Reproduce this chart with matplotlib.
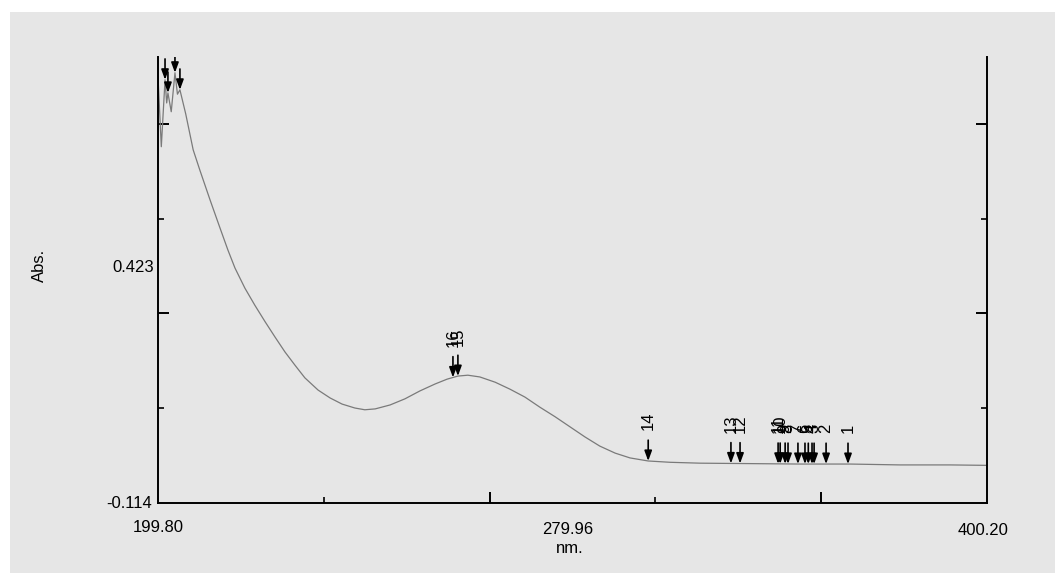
import numpy as np
import matplotlib
matplotlib.use("Agg")
from matplotlib import pyplot as plt
from matplotlib.patches import Rectangle

plt.rcParams['font.family'] = ['Liberation Sans', 'DejaVu Sans']

# spectrum (nm, Abs.)
wavelength = [199.8, 200.6, 201.5, 201.9, 202.2, 203.0, 203.9, 204.5, 205.1, 206.5,
              208.3, 209.9, 212.4, 214.8, 216.7, 218.4, 220.8, 223.2, 225.7, 228.1,
              230.5, 232.9, 235.3, 238.5, 241.4, 244.3, 247.4, 249.8, 252.3, 255.9,
              259.5, 263.1, 266.8, 269.7, 272.3, 274.7, 277.6, 281.3, 284.9, 288.5,
              292.1, 295.8, 299.4, 303.0, 306.6, 310.3, 313.9, 318.3, 323.6, 330.8,
              342.9, 355.0, 367.1, 379.2, 391.3, 400.2]
absorbance = [0.860, 0.700, 0.853, 0.800, 0.823, 0.780, 0.869, 0.820, 0.830, 0.775,
              0.693, 0.647, 0.578, 0.514, 0.464, 0.423, 0.377, 0.338, 0.300, 0.265,
              0.231, 0.201, 0.172, 0.144, 0.126, 0.112, 0.103, 0.099, 0.101, 0.110,
              0.124, 0.142, 0.158, 0.169, 0.176, 0.178, 0.174, 0.162, 0.146, 0.128,
              0.105, 0.083, 0.060, 0.037, 0.016, 0.000, -0.011, -0.018, -0.021, -0.023,
              -0.024, -0.025, -0.025, -0.027, -0.027, -0.028]

# detected peaks
peak_no = [1, 2, 3, 4, 5, 6, 7, 8, 9, 10, 11, 12, 13, 14, 15, 16]
peak_nm = [366.6, 361.3, 358.4, 357.9, 357.0, 356.2, 354.5, 352.1, 351.4, 350.2,
           349.7, 340.5, 338.3, 318.3, 272.3, 271.1]
# peaks at the short-wave end, labels fall off scale
edge_peak_nm = [201.5, 202.2, 203.9, 205.1]

x_min, x_max = 199.80, 400.20
y_min, y_max = -0.114, 0.905
x_mid_label = 279.96
y_mid_label = 0.423

fig = plt.figure(figsize=(10.55, 5.73), dpi=100)
fig.patch.set_facecolor('white')
fig.patches.append(Rectangle((10 / 1055, 0), 1 - 10 / 1055, 561 / 573,
                             transform=fig.transFigure, facecolor='#e6e6e6',
                             edgecolor='none', zorder=-10))

ax = fig.add_axes([158 / 1055, 70 / 573, 829 / 1055, 446 / 573])
ax.patch.set_alpha(0)

ax.plot(wavelength, absorbance, color='#7a7a7a', lw=0.9)
ax.set_xlim(x_min, x_max)
ax.set_ylim(y_min, y_max)

for side in ['left', 'right', 'bottom']:
    ax.spines[side].set_linewidth(1.4)
    ax.spines[side].set_color('black')
ax.spines['top'].set_visible(False)

x_span = x_max - x_min
y_span = y_max - y_min
ax.set_xticks([x_min + f * x_span for f in (0.4, 0.8)])
ax.set_xticks([x_min + f * x_span for f in (0.2, 0.6)], minor=True)
ax.set_yticks([y_min + f * y_span for f in (0.425, 0.85)])
ax.set_yticks([y_min + f * y_span for f in (0.2125, 0.6375)], minor=True)
ax.tick_params(which='both', direction='in', left=True, right=True, bottom=True,
               top=False, labelleft=False, labelbottom=False, color='black')
ax.tick_params(which='major', length=8, width=1.4)
ax.tick_params(which='minor', length=4.5, width=1.2)

arrow_style = dict(arrowstyle='-|>,head_length=0.6,head_width=0.22',
                   color='black', lw=1.2, shrinkA=0, shrinkB=0, mutation_scale=10)

tip = np.interp(peak_nm, wavelength, absorbance)
for n, wl, t in zip(peak_no, peak_nm, tip):
    ax.annotate('', xy=(wl, t), xytext=(0, 15), textcoords='offset points',
                arrowprops=arrow_style)
    ax.annotate(str(n), xy=(wl, t), xytext=(0, 22), textcoords='offset points',
                rotation=90, ha='center', va='bottom', fontsize=12)

edge_tip = np.interp(edge_peak_nm, wavelength, absorbance)
for wl, t in zip(edge_peak_nm, edge_tip):
    ann = ax.annotate('', xy=(wl, t), xytext=(0, 15), textcoords='offset points',
                      arrowprops=arrow_style)
    ann.arrow_patch.set_clip_box(ax.bbox)
    ann.arrow_patch.set_clip_on(True)

# axis labels
ax.annotate(f'{y_min:.3f}', xy=(0, y_min), xycoords=('axes fraction', 'data'),
            xytext=(-4, 0), textcoords='offset points', ha='right', va='center',
            fontsize=12)
ax.annotate(f'{y_mid_label:.3f}', xy=(0, y_mid_label), xycoords=('axes fraction', 'data'),
            xytext=(-3, 0), textcoords='offset points', ha='right', va='center',
            fontsize=12)
ax.annotate(f'{x_min:.2f}', xy=(x_min, 0), xycoords=('data', 'axes fraction'),
            xytext=(0, -21), textcoords='offset points', ha='center', va='baseline',
            fontsize=12)
ax.annotate(f'{x_max:.2f}', xy=(x_max, 0), xycoords=('data', 'axes fraction'),
            xytext=(-3, -23), textcoords='offset points', ha='center', va='baseline',
            fontsize=12)
ax.annotate(f'{x_mid_label:.2f}', xy=(0.4946, 0), xycoords='axes fraction',
            xytext=(0, -22), textcoords='offset points', ha='center', va='baseline',
            fontsize=12)
ax.annotate('nm.', xy=(0.497, 0), xycoords='axes fraction',
            xytext=(0, -36), textcoords='offset points', ha='center', va='baseline',
            fontsize=12)
fig.text(39 / 1055, 1 - 265 / 573, 'Abs.', rotation=90, ha='center', va='center',
         fontsize=12)

fig.savefig('out.png', dpi=100)
